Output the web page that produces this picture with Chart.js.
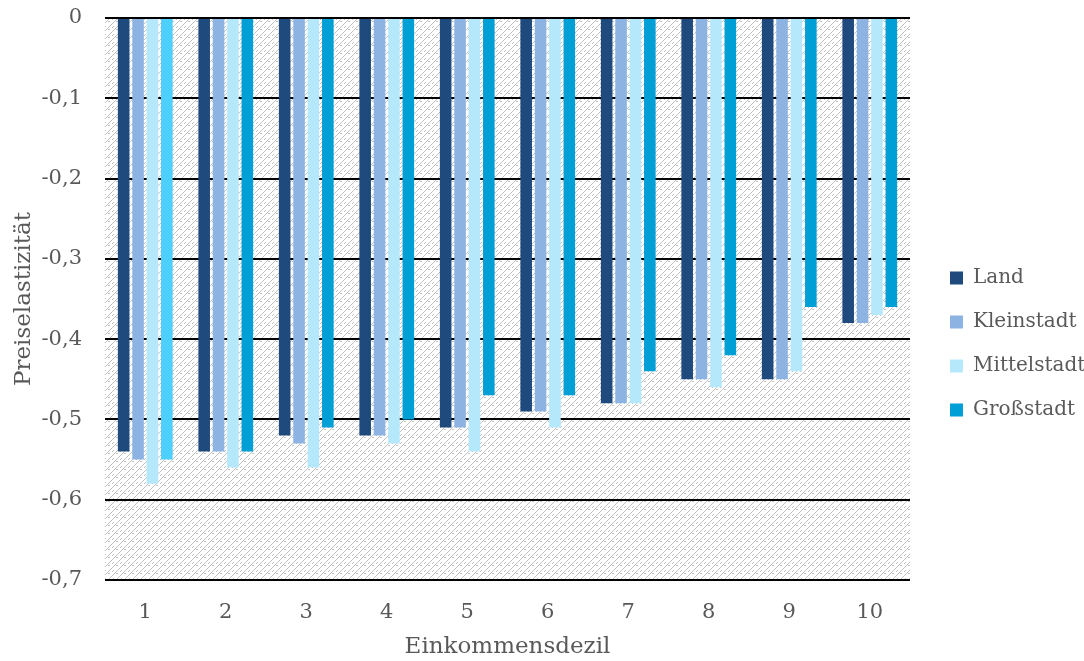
<!DOCTYPE html>
<html>
<head>
<meta charset="utf-8">
<script src="https://cdn.jsdelivr.net/npm/chart.js@4.4.1/dist/chart.umd.min.js"></script>
<style>
  html, body { margin: 0; padding: 0; background: #ffffff; }
  #c { display: block; }
</style>
</head>
<body>
<canvas id="c" width="1084" height="661"></canvas>
<script>
// Price elasticity by income decile and settlement type
const deciles = ['1', '2', '3', '4', '5', '6', '7', '8', '9', '10'];
const land        = [-0.54, -0.54, -0.52, -0.52, -0.51, -0.49, -0.48, -0.45, -0.45, -0.38];
const kleinstadt  = [-0.55, -0.54, -0.53, -0.52, -0.51, -0.49, -0.48, -0.45, -0.45, -0.38];
const mittelstadt = [-0.58, -0.56, -0.56, -0.53, -0.54, -0.51, -0.48, -0.46, -0.44, -0.37];
const grossstadt  = [-0.55, -0.54, -0.51, -0.50, -0.47, -0.47, -0.44, -0.42, -0.36, -0.36];
const seriesNames = ['Land', 'Kleinstadt', 'Mittelstadt', 'Großstadt'];
const axisTitleX = 'Einkommensdezil';
const axisTitleY = 'Preiselastizität';

const TEXT = '#595959';
const FONT = 'DejaVu Serif';

// Großstadt: first decile drawn in a lighter cyan
const GROSS = '#009fd6';
const GROSS_FIRST = '#4dcfff';

// Small tile used to texture the plot area
function makeHatch(ctx) {
  const t = document.createElement('canvas');
  t.width = 8; t.height = 8;
  const g = t.getContext('2d');
  g.fillStyle = '#ffffff';
  g.fillRect(0, 0, 8, 8);
  g.fillStyle = '#c2c2c2';
  const rows = [
    '.......#',
    '......#.',
    '.#...#..',
    '#...#...',
    '...#....',
    '..#.##..',
    '.#......',
    '#.......'
  ];
  rows.forEach((r, y) => {
    for (let x = 0; x < 8; x++) if (r[x] === '#') g.fillRect(x, y, 1, 1);
  });
  return ctx.createPattern(t, 'repeat');
}

const plotBackground = {
  id: 'plotBackground',
  beforeDraw(chart) {
    const { ctx, chartArea: a } = chart;
    ctx.save();
    ctx.fillStyle = makeHatch(ctx);
    ctx.fillRect(a.left, a.top, a.right - a.left, a.bottom - a.top);
    ctx.restore();
  }
};

// Fixed-width legend column on the right, items placed in the middle of it
const legendPlacement = {
  id: 'legendPlacement',
  beforeLayout(chart) {
    const lg = chart.legend;
    if (lg && !lg._fixedFit) {
      const fit = lg.fit;
      lg.fit = function () { fit.call(this); this.width = 174; };
      lg._fixedFit = true;
    }
  },
  afterUpdate(chart) {
    const lg = chart.legend;
    if (!lg) return;
    const pad = lg.options.labels.padding;
    lg.left = chart.chartArea.right + 40 - pad;
    lg.top = 268 - pad;
    lg.bottom = chart.height;
  }
};

const defaultLabels = Chart.defaults.plugins.legend.labels.generateLabels;

new Chart(document.getElementById('c'), {
  type: 'bar',
  data: {
    labels: deciles,
    datasets: [
      { label: seriesNames[0], data: land, backgroundColor: '#1f4a7d' },
      { label: seriesNames[1], data: kleinstadt, backgroundColor: '#8db3e2' },
      { label: seriesNames[2], data: mittelstadt, backgroundColor: '#b6e8fc' },
      {
        label: seriesNames[3], data: grossstadt,
        backgroundColor: c => c.dataIndex === 0 ? GROSS_FIRST : GROSS
      }
    ]
  },
  options: {
    responsive: false,
    animation: false,
    devicePixelRatio: 1,
    layout: { padding: { top: 18, right: 0, bottom: 0, left: 0 } },
    datasets: {
      bar: { barPercentage: 0.805, categoryPercentage: 0.715, borderWidth: 0 }
    },
    scales: {
      x: {
        grid: { display: false, drawTicks: false },
        border: { display: false },
        ticks: { color: TEXT, font: { family: FONT, size: 21 }, padding: 20 },
        title: {
          display: true, text: axisTitleX, color: TEXT,
          font: { family: FONT, size: 23 }, padding: { top: 0, bottom: 0 }
        },
        afterFit(scale) { scale.height = 81; }
      },
      y: {
        min: -0.7, max: 0,
        grid: { color: '#000000', lineWidth: 2, drawTicks: false },
        border: { display: false },
        ticks: {
          stepSize: 0.1, color: TEXT, font: { family: FONT, size: 21 }, padding: 23,
          callback: v => Math.abs(v) < 1e-9 ? '0' : v.toFixed(1).replace('.', ',')
        },
        title: {
          display: true, text: axisTitleY, color: TEXT,
          font: { family: FONT, size: 23 }, padding: { top: 10, bottom: 0 }
        },
        afterFit(scale) {
          scale.width = 105;
          scale.paddingTop = 0;
          scale.paddingBottom = 0;
        }
      }
    },
    plugins: {
      legend: {
        position: 'right',
        align: 'start',
        labels: {
          color: TEXT, font: { family: FONT, size: 20 },
          boxWidth: 13, boxHeight: 13, padding: 24,
          generateLabels(chart) {
            const items = defaultLabels(chart);
            items.forEach(it => { if (it.datasetIndex === 3) it.fillStyle = GROSS; });
            return items;
          }
        }
      },
      tooltip: { enabled: false }
    }
  },
  plugins: [plotBackground, legendPlacement]
});
</script>
</body>
</html>
